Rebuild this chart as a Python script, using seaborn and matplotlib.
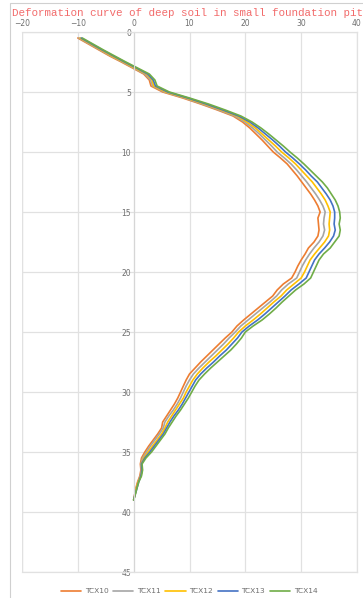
import pandas as pd
import seaborn as sns
import matplotlib.pyplot as plt
from matplotlib.patches import Rectangle

# depth (m) from 0.5 to 39 every 0.5
depth = [0.5, 1.0, 1.5, 2.0, 2.5, 3.0, 3.5, 4.0, 4.5, 5.0,
         5.5, 6.0, 6.5, 7.0, 7.5, 8.0, 8.5, 9.0, 9.5, 10.0,
         10.5, 11.0, 11.5, 12.0, 12.5, 13.0, 13.5, 14.0, 14.5, 15.0,
         15.5, 16.0, 16.5, 17.0, 17.5, 18.0, 18.5, 19.0, 19.5, 20.0,
         20.5, 21.0, 21.5, 22.0, 22.5, 23.0, 23.5, 24.0, 24.5, 25.0,
         25.5, 26.0, 26.5, 27.0, 27.5, 28.0, 28.5, 29.0, 29.5, 30.0,
         30.5, 31.0, 31.5, 32.0, 32.5, 33.0, 33.5, 34.0, 34.5, 35.0,
         35.5, 36.0, 36.5, 37.0, 37.5, 38.0, 38.5, 39.0]

tcx10 = [-10.0, -8.1, -6.2, -4.3, -2.2, -0.2, 1.8, 2.8, 3.1, 5.2,
         8.8, 12.0, 15.0, 17.8, 19.5, 20.8, 21.9, 23.0, 24.0, 25.0,
         26.3, 27.5, 28.4, 29.3, 30.1, 30.9, 31.7, 32.4, 33.0, 33.4,
         33.0, 33.1, 33.2, 33.0, 32.3, 31.3, 30.7, 30.0, 29.4, 28.9,
         28.3, 26.8, 25.7, 24.9, 23.6, 22.3, 21.0, 19.7, 18.5, 17.6,
         16.4, 15.3, 14.2, 13.1, 12.0, 11.0, 10.0, 9.4, 8.9, 8.4,
         7.9, 7.3, 6.6, 5.9, 5.2, 5.0, 4.3, 3.5, 2.7, 2.0,
         1.4, 1.2, 1.3, 1.1, 0.7, 0.4, 0.2, 0.0]

tcx11 = [-9.8, -7.9, -6.0, -4.1, -2.0, 0.0, 2.0, 3.0, 3.4, 5.5,
         9.1, 12.3, 15.3, 18.1, 19.9, 21.3, 22.5, 23.6, 24.7, 25.7,
         27.0, 28.2, 29.2, 30.1, 31.0, 31.8, 32.6, 33.3, 33.9, 34.3,
         34.1, 34.0, 34.2, 33.9, 33.2, 32.3, 31.5, 30.8, 30.2, 29.7,
         29.2, 27.7, 26.5, 25.6, 24.4, 23.1, 21.8, 20.5, 19.2, 18.2,
         17.1, 16.1, 15.0, 13.9, 12.8, 11.7, 10.7, 10.0, 9.4, 8.9,
         8.4, 7.8, 7.1, 6.3, 5.6, 5.3, 4.6, 3.8, 3.0, 2.3,
         1.6, 1.3, 1.4, 1.2, 0.8, 0.5, 0.2, 0.0]

tcx12 = [-9.6, -7.7, -5.8, -3.9, -1.8, 0.2, 2.3, 3.3, 3.6, 5.8,
         9.4, 12.7, 15.7, 18.5, 20.3, 21.8, 23.0, 24.2, 25.4, 26.5,
         27.8, 29.0, 30.0, 31.0, 32.0, 32.8, 33.6, 34.3, 34.8, 35.2,
         35.1, 35.0, 35.1, 34.9, 34.2, 33.3, 32.4, 31.6, 31.1, 30.6,
         30.0, 28.7, 27.4, 26.4, 25.1, 23.9, 22.7, 21.4, 20.0, 18.8,
         17.9, 16.9, 15.8, 14.7, 13.5, 12.4, 11.4, 10.6, 10.0, 9.4,
         8.9, 8.2, 7.5, 6.8, 6.1, 5.6, 5.0, 4.2, 3.4, 2.6,
         1.8, 1.4, 1.5, 1.3, 0.8, 0.5, 0.3, 0.0]

tcx13 = [-9.4, -7.5, -5.6, -3.6, -1.6, 0.5, 2.5, 3.5, 3.9, 6.1,
         9.7, 13.0, 16.0, 18.8, 20.8, 22.3, 23.6, 24.9, 26.1, 27.2,
         28.5, 29.7, 30.8, 31.8, 32.9, 33.7, 34.5, 35.2, 35.7, 36.0,
         36.0, 35.9, 36.1, 35.8, 35.1, 34.2, 33.2, 32.4, 31.9, 31.4,
         30.9, 29.6, 28.2, 27.1, 25.9, 24.7, 23.5, 22.2, 20.7, 19.4,
         18.6, 17.6, 16.6, 15.4, 14.3, 13.1, 12.0, 11.1, 10.5, 9.9,
         9.3, 8.7, 8.0, 7.2, 6.5, 5.9, 5.3, 4.5, 3.7, 2.9,
         2.0, 1.4, 1.5, 1.3, 0.9, 0.6, 0.3, 0.0]

tcx14 = [-9.2, -7.3, -5.4, -3.4, -1.4, 0.7, 2.8, 3.8, 4.2, 6.4,
         10.0, 13.4, 16.4, 19.2, 21.2, 22.8, 24.2, 25.5, 26.8, 28.0,
         29.3, 30.5, 31.6, 32.7, 33.8, 34.7, 35.4, 36.1, 36.6, 36.9,
         37.0, 36.8, 37.0, 36.8, 36.0, 35.2, 34.0, 33.2, 32.7, 32.2,
         31.7, 30.5, 29.0, 27.8, 26.6, 25.5, 24.3, 23.0, 21.4, 20.0,
         19.3, 18.4, 17.4, 16.2, 15.0, 13.8, 12.7, 11.7, 11.0, 10.4,
         9.8, 9.1, 8.4, 7.6, 6.9, 6.2, 5.6, 4.8, 4.0, 3.2,
         2.2, 1.5, 1.6, 1.4, 0.9, 0.6, 0.3, 0.0]

series_names = ['TCX10', 'TCX11', 'TCX12', 'TCX13', 'TCX14']
colors = ['#ED7D31', '#A5A5A5', '#FFC000', '#4472C4', '#70AD47']
x_ticks = [-20, -10, 0, 10, 20, 30, 40]
y_ticks = [0, 5, 10, 15, 20, 25, 30, 35, 40, 45]

# long format table for seaborn
frames = []
for name, vals in zip(series_names, [tcx10, tcx11, tcx12, tcx13, tcx14]):
    frames.append(pd.DataFrame({'depth': depth, 'value': vals, 'series': name}))
df = pd.concat(frames, ignore_index=True)

sns.set_style('white')
plt.rcParams['font.family'] = ['DejaVu Sans']

grid_c = '#E1E1E1'

fig = plt.figure(figsize=(3.63, 5.98), dpi=100)
ax = fig.add_axes([22 / 363, 26 / 598, 335 / 363, 540 / 598])

sns.lineplot(data=df, x='value', y='depth', hue='series', orient='y',
             palette=dict(zip(series_names, colors)), linewidth=1.2,
             legend=False, ax=ax)

ax.set_xlim(-20, 40)
ax.set_ylim(45, 0)
ax.set_xticks(x_ticks)
ax.set_yticks(y_ticks)
ax.grid(True, color=grid_c, linewidth=0.9)
ax.set_axisbelow(True)
ax.set_xlabel('')
ax.set_ylabel('')

# axis crossing at x = 0, labels on top
ax.xaxis.tick_top()
ax.spines['left'].set_position(('data', 0))
ax.spines['left'].set_color('#D6D6D6')
for s in ['top', 'right', 'bottom']:
    ax.spines[s].set_color(grid_c)
    ax.spines[s].set_linewidth(0.9)
ax.tick_params(axis='both', length=0, labelsize=5.5, labelcolor='#6E6E6E')
ax.tick_params(axis='x', pad=3)
ax.tick_params(axis='y', pad=2)

# left border of the plot area (at -20)
ax.axvline(-20, color=grid_c, linewidth=0.9, zorder=0)

fig.text(12 / 363, 1 - 13 / 598,
         'Deformation curve of deep soil in small foundation pit',
         family=['Liberation Mono', 'DejaVu Sans Mono'], fontsize=7.8,
         color='#F26B6B', ha='left', va='center')

handles = [plt.Line2D([], [], color=c, linewidth=1.2) for c in colors]
fig.legend(handles, series_names, loc='center', ncol=5,
           bbox_to_anchor=(189 / 363, 1 - 591 / 598), frameon=False,
           fontsize=5.4, labelcolor='#6E6E6E', handlelength=2.7,
           handletextpad=0.5, columnspacing=0.6)

# chart area frame
fig.add_artist(Rectangle((10 / 363, -0.05), 1.2, 1.05 - 3 / 598,
                         transform=fig.transFigure, fill=False,
                         edgecolor='#D0D0D0', linewidth=0.8))

plt.savefig('out.png', dpi=100)
